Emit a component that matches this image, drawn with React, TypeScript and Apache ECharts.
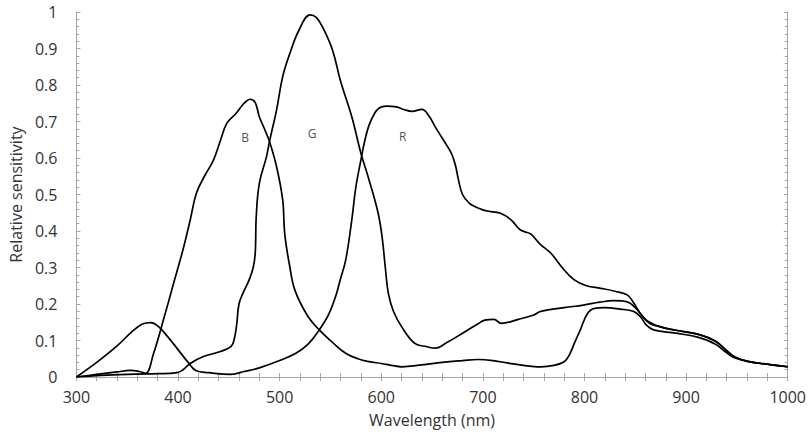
import React, { useEffect, useRef } from "react";
import * as echarts from "echarts";

const xTicks = [300, 400, 500, 600, 700, 800, 900, 1000];
const yTicks = [0, 0.1, 0.2, 0.3, 0.4, 0.5, 0.6, 0.7, 0.8, 0.9, 1];

const blue: [number, number][] = [
  [300, 0], [320, 0.007], [340, 0.014], [353, 0.018], [362, 0.015], [368, 0.01],
  [376, 0.065], [386, 0.16], [396, 0.26], [405, 0.35], [412, 0.43], [418, 0.503],
  [426, 0.55], [435, 0.595], [442, 0.65], [448, 0.695], [457, 0.722], [465, 0.75],
  [471, 0.761], [476, 0.752], [480, 0.713], [485, 0.68], [490, 0.645], [497, 0.576],
  [503, 0.485], [505, 0.393], [510, 0.302], [515, 0.238], [527, 0.17], [539, 0.129],
  [552, 0.095], [565, 0.065], [577, 0.05], [588, 0.042], [600, 0.037], [610, 0.032],
  [620, 0.028], [640, 0.033], [660, 0.04], [680, 0.045], [695, 0.048], [710, 0.045],
  [730, 0.036], [757, 0.028], [770, 0.032], [780, 0.042], [785, 0.06], [790, 0.092],
  [796, 0.13], [803, 0.174], [810, 0.188], [820, 0.19], [835, 0.186], [848, 0.18],
  [855, 0.165], [861, 0.142], [868, 0.129], [890, 0.12], [913, 0.108], [929, 0.09],
  [940, 0.066], [948, 0.052], [962, 0.042], [980, 0.035], [1000, 0.028],
];

const green: [number, number][] = [
  [300, 0], [330, 0.005], [360, 0.008], [380, 0.009], [399, 0.012], [405, 0.02],
  [412, 0.037], [425, 0.056], [441, 0.069], [452, 0.083], [455, 0.1], [457.5, 0.138],
  [460, 0.2], [464, 0.23], [470, 0.266], [474, 0.3], [476, 0.34], [477, 0.44],
  [480, 0.53], [487, 0.603], [490, 0.645], [497, 0.732], [503, 0.823], [510, 0.886],
  [519, 0.95], [530, 0.992], [536, 0.985], [542, 0.96], [552, 0.896], [560, 0.81],
  [571, 0.713], [580, 0.613], [588, 0.54], [597, 0.448], [601, 0.38], [604, 0.3],
  [607, 0.229], [612, 0.18], [620, 0.138], [633, 0.092], [645, 0.083], [653, 0.079],
  [665, 0.095], [680, 0.12], [695, 0.145], [702, 0.156], [711, 0.158], [718, 0.147],
  [735, 0.158], [750, 0.17], [757, 0.18], [780, 0.19], [799, 0.197], [815, 0.205],
  [829, 0.209], [842, 0.206], [850, 0.19], [861, 0.156], [874, 0.138], [890, 0.128],
  [913, 0.116], [929, 0.098], [940, 0.072], [948, 0.055], [962, 0.042], [980, 0.035],
  [1000, 0.028],
];

const red: [number, number][] = [
  [300, 0], [320, 0.04], [340, 0.085], [355, 0.125], [365, 0.145], [373, 0.149],
  [380, 0.14], [390, 0.11], [400, 0.075], [410, 0.04], [418, 0.017], [430, 0.012],
  [451, 0.007], [465, 0.015], [480, 0.025], [500, 0.045], [516, 0.065], [528, 0.09],
  [539, 0.129], [548, 0.17], [555, 0.22], [560, 0.27], [565, 0.32], [571, 0.43],
  [575, 0.52], [580, 0.595], [584, 0.65], [588, 0.69], [593, 0.72], [598, 0.737],
  [605, 0.742], [615, 0.74], [622, 0.733], [630, 0.728], [640, 0.733], [647, 0.715],
  [653, 0.686], [661, 0.65], [669, 0.613], [673, 0.58], [676, 0.54], [680, 0.5],
  [686, 0.478], [692, 0.467], [700, 0.458], [708, 0.453], [718, 0.448], [728, 0.43],
  [736, 0.405], [741, 0.398], [747, 0.392], [756, 0.365], [767, 0.339], [778, 0.3],
  [790, 0.266], [802, 0.25], [816, 0.243], [830, 0.235], [842, 0.225], [848, 0.205],
  [855, 0.174], [864, 0.147], [874, 0.138], [890, 0.128], [913, 0.116], [929, 0.098],
  [940, 0.072], [948, 0.055], [962, 0.042], [980, 0.035], [1000, 0.028],
];

const curveLabels = [
  { name: "B", x: 466, y: 0.657 },
  { name: "G", x: 532, y: 0.668 },
  { name: "R", x: 621, y: 0.66 },
];

const FONT = "'Open Sans', sans-serif";
const AXIS_COLOR = "#a6a6a6";
const TEXT_COLOR = "#333333";

export default function App() {
  const ref = useRef<HTMLDivElement>(null);

  useEffect(() => {
    document.body.style.margin = "0";
    if (!ref.current) return;
    const chart = echarts.init(ref.current, undefined, { renderer: "svg" });

    const lineSeries = (data: [number, number][]) => ({
      type: "line",
      data,
      smooth: 0.4,
      symbol: "none",
      lineStyle: { color: "#000", width: 1.7 },
      xAxisIndex: 0,
      yAxisIndex: 0,
    });

    const frameAxisCommon = {
      axisLine: { show: true, lineStyle: { color: AXIS_COLOR, width: 1 } },
      axisTick: { show: true, inside: true, length: 4, lineStyle: { color: AXIS_COLOR } },
      minorTick: { show: true, splitNumber: 5, length: 3, lineStyle: { color: AXIS_COLOR } },
      splitLine: { show: false },
    };

    chart.setOption({
      animation: false,
      grid: { left: 72, right: 20, top: 12, bottom: 62 },
      xAxis: [
        {
          type: "value",
          min: xTicks[0],
          max: xTicks[xTicks.length - 1],
          interval: 100,
          ...frameAxisCommon,
          minorTick: { ...frameAxisCommon.minorTick, splitNumber: 5, length: 4 },
          axisLabel: {
            color: TEXT_COLOR,
            fontSize: 16,
            fontFamily: FONT,
            margin: 12,
            formatter: (v: number) => String(v),
          },
          name: "Wavelength (nm)",
          nameLocation: "middle",
          nameGap: 35,
          nameTextStyle: { color: TEXT_COLOR, fontSize: 16, fontFamily: FONT },
        },
        {
          type: "value",
          position: "top",
          min: xTicks[0],
          max: xTicks[xTicks.length - 1],
          interval: 100,
          ...frameAxisCommon,
          minorTick: { ...frameAxisCommon.minorTick, splitNumber: 5, length: 4 },
          axisLabel: { show: false },
        },
      ],
      yAxis: [
        {
          type: "value",
          min: yTicks[0],
          max: yTicks[yTicks.length - 1],
          interval: 0.1,
          ...frameAxisCommon,
          axisLabel: {
            color: TEXT_COLOR,
            fontSize: 16,
            fontFamily: FONT,
            margin: 19,
            formatter: (v: number) => String(Math.round(v * 10) / 10),
          },
          name: "Relative sensitivity",
          nameLocation: "middle",
          nameGap: 50,
          nameTextStyle: { color: TEXT_COLOR, fontSize: 16, fontFamily: FONT },
        },
        {
          type: "value",
          position: "right",
          min: yTicks[0],
          max: yTicks[yTicks.length - 1],
          interval: 0.1,
          ...frameAxisCommon,
          axisLabel: { show: false },
        },
      ],
      series: [
        lineSeries(blue),
        lineSeries(green),
        lineSeries(red),
        {
          type: "scatter",
          symbolSize: 0,
          data: curveLabels.map((l) => ({ value: [l.x, l.y], name: l.name })),
          label: {
            show: true,
            position: "inside",
            formatter: (p: any) => p.name,
            color: "#222",
            fontSize: 12,
            fontFamily: FONT,
          },
          silent: true,
        },
      ],
    });

    return () => chart.dispose();
  }, []);

  return <div ref={ref} style={{ width: 809, height: 439 }} />;
}
